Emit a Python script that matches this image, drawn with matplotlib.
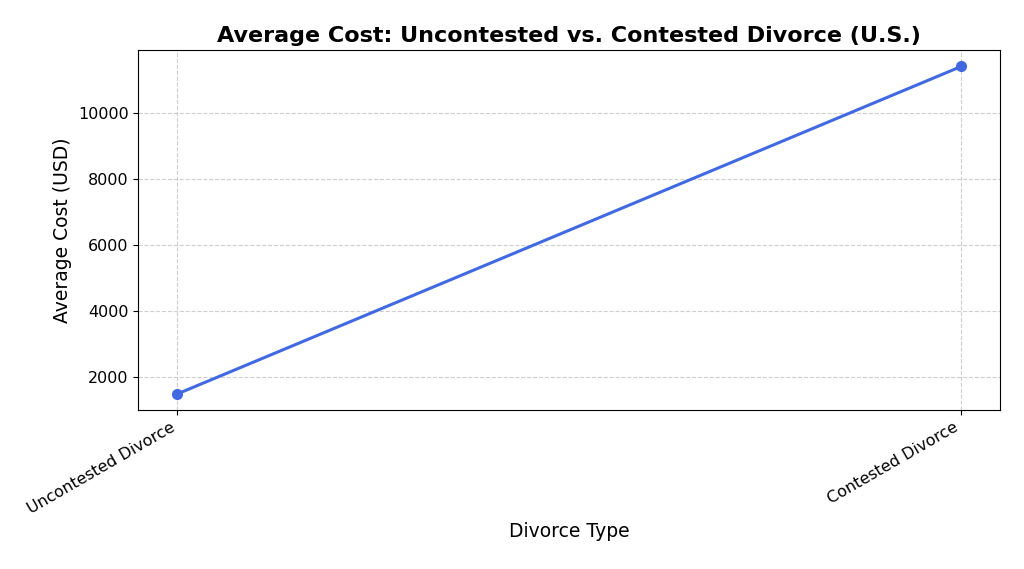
import matplotlib.pyplot as plt

# data
divorce_types = ["Uncontested Divorce", "Contested Divorce"]
avg_cost = [1500, 11400]

fig, ax = plt.subplots(figsize=(10.24, 5.69), dpi=100)
fig.subplots_adjust(left=0.135, right=0.977, top=0.912, bottom=0.279)

ax.plot(divorce_types, avg_cost, marker="o", color="royalblue", linewidth=2.2, markersize=7)

ax.set_title("Average Cost: Uncontested vs. Contested Divorce (U.S.)", fontsize=16, fontweight="bold")
ax.set_xlabel("Divorce Type", fontsize=13.5, labelpad=4)
ax.set_ylabel("Average Cost (USD)", fontsize=13.5)
ax.tick_params(axis="both", labelsize=11.5)
plt.setp(ax.get_xticklabels(), rotation=30, ha="right")
ax.grid(True, linestyle="--", alpha=0.6)

fig.savefig("out.png")
